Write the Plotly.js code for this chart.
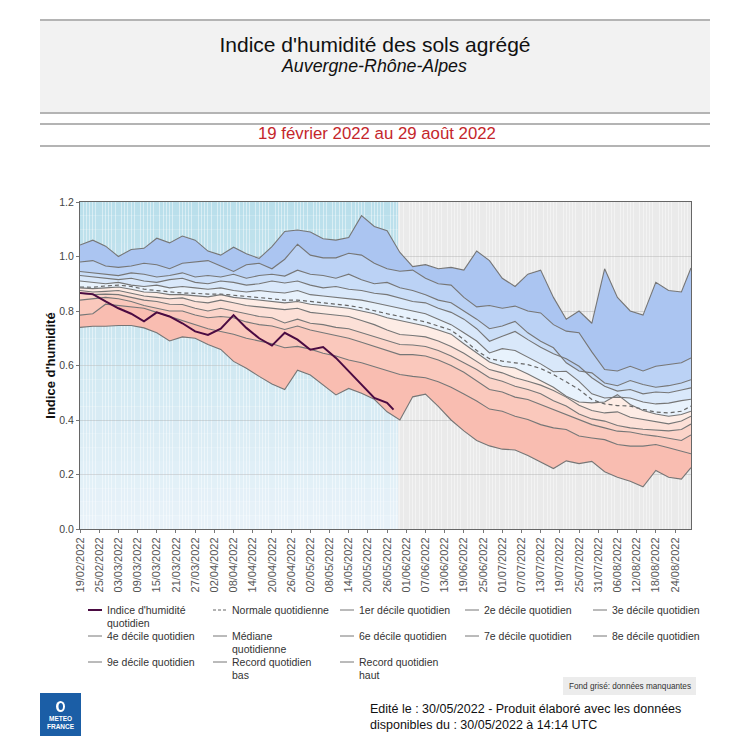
<!DOCTYPE html>
<html><head><meta charset="utf-8">
<script src="https://cdn.plot.ly/plotly-3.0.1.min.js"></script>
<style>html,body{margin:0;padding:0;background:#fff;} #chart{width:750px;height:750px;}</style>
</head><body><div id="chart"></div>
<script>
// ---- data ----
const dates = [
'2022-02-19','2022-02-23','2022-02-27','2022-03-03','2022-03-07','2022-03-11','2022-03-15','2022-03-19','2022-03-23','2022-03-27',
'2022-03-31','2022-04-04','2022-04-08','2022-04-12','2022-04-16','2022-04-20','2022-04-24','2022-04-28','2022-05-02','2022-05-06',
'2022-05-10','2022-05-14','2022-05-18','2022-05-22','2022-05-26','2022-05-30','2022-06-03','2022-06-07','2022-06-11','2022-06-15',
'2022-06-19','2022-06-23','2022-06-27','2022-07-01','2022-07-05','2022-07-09','2022-07-13','2022-07-17','2022-07-21','2022-07-25',
'2022-07-29','2022-08-02','2022-08-06','2022-08-10','2022-08-14','2022-08-18','2022-08-22','2022-08-26','2022-08-29'];

const recordHaut = [1.042,1.06,1.038,1.0,1.026,1.03,1.067,1.05,1.075,1.06,
1.02,1.005,1.034,1.01,0.993,1.036,1.092,1.097,1.09,1.065,
1.06,1.07,1.15,1.11,1.095,1.015,0.963,0.97,0.955,0.96,
0.95,1.02,0.985,0.92,0.89,0.935,0.95,0.85,0.77,0.80,
0.755,0.955,0.85,0.80,0.785,0.905,0.875,0.87,0.958];

const decile9 = [0.98,0.985,0.965,0.96,0.965,0.975,0.97,0.955,0.975,0.98,
0.985,0.965,0.945,0.97,0.975,0.955,0.99,1.045,1.005,0.995,
0.995,1.012,1.005,0.975,0.955,0.946,0.95,0.92,0.90,0.895,
0.85,0.815,0.82,0.81,0.818,0.80,0.793,0.75,0.726,0.72,
0.65,0.585,0.58,0.597,0.58,0.597,0.603,0.61,0.628];

const decile8 = [0.945,0.94,0.935,0.93,0.94,0.935,0.925,0.93,0.94,0.925,
0.93,0.925,0.935,0.92,0.93,0.935,0.928,0.95,0.935,0.93,
0.92,0.935,0.915,0.90,0.905,0.885,0.875,0.86,0.84,0.83,
0.80,0.77,0.735,0.745,0.762,0.72,0.689,0.665,0.61,0.58,
0.573,0.536,0.526,0.545,0.53,0.52,0.526,0.536,0.548];

const decile7 = [0.93,0.925,0.92,0.915,0.92,0.91,0.905,0.915,0.92,0.905,
0.90,0.91,0.905,0.895,0.90,0.91,0.903,0.91,0.895,0.885,
0.89,0.88,0.875,0.865,0.86,0.848,0.835,0.83,0.81,0.795,
0.77,0.735,0.689,0.707,0.725,0.695,0.667,0.643,0.625,0.597,
0.555,0.524,0.506,0.512,0.496,0.503,0.50,0.51,0.518];

const decile6 = [0.91,0.905,0.90,0.905,0.895,0.89,0.895,0.885,0.89,0.885,
0.88,0.885,0.875,0.87,0.875,0.87,0.866,0.875,0.86,0.855,
0.85,0.845,0.84,0.83,0.82,0.811,0.80,0.79,0.77,0.75,
0.72,0.69,0.646,0.662,0.655,0.63,0.606,0.577,0.579,0.542,
0.496,0.481,0.484,0.481,0.466,0.459,0.462,0.471,0.476];

const normale = [0.888,0.887,0.892,0.895,0.89,0.88,0.875,0.871,0.866,0.865,
0.862,0.862,0.858,0.855,0.85,0.845,0.84,0.84,0.835,0.83,
0.825,0.82,0.812,0.80,0.79,0.78,0.77,0.76,0.745,0.73,
0.695,0.655,0.625,0.616,0.61,0.603,0.589,0.567,0.54,0.512,
0.475,0.459,0.453,0.451,0.439,0.429,0.426,0.432,0.451];

const mediane = [0.885,0.882,0.885,0.888,0.88,0.87,0.868,0.86,0.86,0.855,
0.852,0.86,0.85,0.845,0.84,0.835,0.83,0.835,0.825,0.82,
0.815,0.81,0.80,0.79,0.775,0.765,0.755,0.745,0.73,0.715,
0.68,0.645,0.613,0.597,0.591,0.569,0.545,0.52,0.487,0.466,
0.463,0.466,0.493,0.457,0.435,0.422,0.414,0.42,0.432];

const decile4 = [0.875,0.87,0.872,0.875,0.865,0.855,0.85,0.845,0.848,0.835,
0.83,0.84,0.83,0.82,0.815,0.81,0.805,0.81,0.795,0.79,
0.785,0.78,0.765,0.75,0.73,0.714,0.71,0.705,0.69,0.67,
0.645,0.615,0.585,0.573,0.555,0.542,0.528,0.508,0.484,0.454,
0.435,0.426,0.43,0.41,0.402,0.396,0.386,0.396,0.414];

const decile3 = [0.865,0.86,0.862,0.86,0.85,0.84,0.835,0.825,0.824,0.81,
0.80,0.81,0.80,0.79,0.78,0.775,0.756,0.77,0.755,0.75,
0.74,0.735,0.72,0.705,0.69,0.677,0.675,0.67,0.655,0.635,
0.61,0.585,0.555,0.542,0.524,0.512,0.496,0.471,0.451,0.422,
0.404,0.396,0.38,0.371,0.366,0.362,0.36,0.365,0.385];

const decile2 = [0.84,0.845,0.85,0.845,0.835,0.82,0.81,0.80,0.80,0.785,
0.775,0.78,0.775,0.76,0.75,0.745,0.732,0.745,0.73,0.72,
0.71,0.70,0.685,0.67,0.655,0.64,0.64,0.635,0.62,0.60,
0.575,0.545,0.512,0.503,0.484,0.475,0.457,0.439,0.42,0.402,
0.383,0.371,0.359,0.356,0.347,0.341,0.334,0.325,0.345];

const decile1 = [0.785,0.79,0.825,0.82,0.815,0.81,0.795,0.78,0.765,0.75,
0.735,0.725,0.715,0.70,0.69,0.68,0.665,0.67,0.66,0.645,
0.635,0.62,0.61,0.595,0.58,0.567,0.56,0.555,0.54,0.52,
0.495,0.47,0.44,0.432,0.414,0.402,0.383,0.371,0.365,0.341,
0.334,0.328,0.31,0.304,0.304,0.31,0.298,0.286,0.276];

const recordBas = [0.74,0.744,0.744,0.747,0.747,0.738,0.72,0.69,0.705,0.70,
0.677,0.659,0.615,0.59,0.56,0.532,0.512,0.583,0.565,0.528,
0.492,0.516,0.498,0.476,0.43,0.40,0.485,0.495,0.45,0.40,
0.36,0.325,0.305,0.293,0.29,0.27,0.245,0.222,0.25,0.24,
0.248,0.21,0.19,0.175,0.155,0.215,0.19,0.183,0.225];

const indiceDates = [
'2022-02-19','2022-02-23','2022-02-27','2022-03-03','2022-03-07','2022-03-11','2022-03-15','2022-03-19','2022-03-23','2022-03-27',
'2022-03-31','2022-04-04','2022-04-08','2022-04-12','2022-04-16','2022-04-20','2022-04-24','2022-04-28','2022-05-02','2022-05-06',
'2022-05-10','2022-05-14','2022-05-18','2022-05-22','2022-05-26','2022-05-28'];
const indice = [0.866,0.862,0.835,0.81,0.79,0.762,0.795,0.78,0.755,0.725,
0.712,0.735,0.785,0.738,0.70,0.673,0.72,0.695,0.658,0.668,
0.628,0.579,0.53,0.481,0.463,0.438];

const tickStart = '2022-02-19';
const xRange = ['2022-02-19','2022-08-29'];
const missingStart = '2022-05-29 12:00';

// ---- layout helpers ----
const W = 750, H = 750;
const px = x => x / W, py = y => 1 - y / H;
const FONT = 'Liberation Sans, Arial, sans-serif';
const lineGray = '#767676';
const grayLine = {color: lineGray, width: 1.1};
const dashLine = {color: '#666', width: 1.2, dash: '4px,3px'};
const indiceLine = {color: '#4b0b42', width: 2};

const traces = [];
const bands = [recordBas, decile1, decile2, decile3, decile4, mediane, decile6, decile7, decile8, decile9, recordHaut];
const bandColors = [null, '#f9bdb1', '#fac8bc', '#fbd4c9', '#fce0d7', '#fdece5', '#e8f2fc', '#d9e8fa', '#cadef8', '#bbd2f5', '#abc5f1'];
bands.forEach((s, i) => traces.push({
  x: dates, y: s, type: 'scatter', mode: 'lines', line: {width: 0},
  fill: i ? 'tonexty' : 'none', fillcolor: bandColors[i] || undefined,
  showlegend: false, hoverinfo: 'skip'
}));

// legend order (row by row, 5 per row) with line styles
const legendEntries = [
  ["Indice d'humidité|quotidien", indiceDates, indice, indiceLine],
  ['Normale quotidienne', dates, normale, dashLine],
  ['1er décile quotidien', dates, decile1, grayLine],
  ['2e décile quotidien', dates, decile2, grayLine],
  ['3e décile quotidien', dates, decile3, grayLine],
  ['4e décile quotidien', dates, decile4, grayLine],
  ['Médiane|quotidienne', dates, mediane, grayLine],
  ['6e décile quotidien', dates, decile6, grayLine],
  ['7e décile quotidien', dates, decile7, grayLine],
  ['8e décile quotidien', dates, decile8, grayLine],
  ['9e décile quotidien', dates, decile9, grayLine],
  ['Record quotidien|bas', dates, recordBas, grayLine],
  ['Record quotidien|haut', dates, recordHaut, grayLine]
];
// draw the indice last so it sits on top
legendEntries.slice(1).concat([legendEntries[0]]).forEach(([name, x, y, line]) => traces.push({
  x: x, y: y, type: 'scatter', mode: 'lines', name: name.replace('|', ' '), line: line,
  showlegend: false, hoverinfo: 'skip'
}));

const shapes = [];
const annotations = [];

// background (blue gradient where data exist, grey where missing)
const nStrips = 24;
const bgTop = [186, 223, 235], bgBot = [232, 242, 249];
for (let k = 0; k < nStrips; k++) {
  const t = k / (nStrips - 1);
  const c = bgTop.map((v, j) => Math.round(bgBot[j] + (v - bgBot[j]) * t));
  shapes.push({type: 'rect', xref: 'x', yref: 'y', layer: 'below',
    x0: xRange[0], x1: missingStart, y0: 1.2 * k / nStrips, y1: 1.2 * (k + 1) / nStrips,
    fillcolor: `rgb(${c[0]},${c[1]},${c[2]})`, line: {width: 0}});
}
shapes.push({type: 'rect', xref: 'x', yref: 'y', layer: 'below',
  x0: missingStart, x1: xRange[1], y0: 0, y1: 1.2, fillcolor: '#eaeaea', line: {width: 0}});

// header box and rules
shapes.push({type: 'rect', xref: 'paper', yref: 'paper', layer: 'below', x0: px(40), x1: px(710), y0: py(113), y1: py(20), fillcolor: '#f2f2f2', line: {width: 0}});
[20, 113, 124, 146].forEach(y => shapes.push({type: 'line', xref: 'paper', yref: 'paper', x0: px(40), x1: px(710), y0: py(y), y1: py(y), line: {color: '#b4b4b4', width: 2}}));

// manual legend (5 columns)
const colLine = [88, 213, 340, 465, 593], rowY = [610, 636, 662];
legendEntries.forEach(([name, , , line], i) => {
  const cx = colLine[i % 5], ry = rowY[Math.floor(i / 5)];
  shapes.push({type: 'line', xref: 'paper', yref: 'paper', x0: px(cx), x1: px(cx + 14), y0: py(ry), y1: py(ry),
    line: {color: line.color, width: line.width === 2 ? 2 : 1, dash: line.dash ? '3px,2px' : 'solid'}});
  name.split('|').forEach((txt, k) => annotations.push({
    text: txt, x: px(cx + 17), y: py(ry + 12.5 * k), xref: 'paper', yref: 'paper', xanchor: 'left', yanchor: 'middle',
    showarrow: false, font: {family: FONT, size: 10.5, color: '#333'}
  }));
});

// "fond grisé" box
shapes.push({type: 'rect', xref: 'paper', yref: 'paper', layer: 'below', x0: px(563), x1: px(696), y0: py(695), y1: py(677), fillcolor: '#ececec', line: {width: 0}});
// logo
shapes.push({type: 'rect', xref: 'paper', yref: 'paper', x0: px(40), x1: px(81), y0: py(736), y1: py(693), fillcolor: '#1b5ea6', line: {width: 0}});
shapes.push({type: 'circle', xref: 'paper', yref: 'paper', x0: px(56), x1: px(65), y0: py(712), y1: py(701), fillcolor: '#ffffff', line: {width: 0}});
shapes.push({type: 'circle', xref: 'paper', yref: 'paper', x0: px(58.5), x1: px(63), y0: py(710), y1: py(703), fillcolor: '#1b5ea6', line: {width: 0}});

annotations.push(
  {text: '<i>Auvergne-Rhône-Alpes</i>', x: px(374), y: py(66), xref: 'paper', yref: 'paper', xanchor: 'center', yanchor: 'middle', showarrow: false, font: {family: FONT, size: 17.8, color: '#111'}},
  {text: '19 février 2022 au 29 août 2022', x: px(377), y: py(134), xref: 'paper', yref: 'paper', xanchor: 'center', yanchor: 'middle', showarrow: false, font: {family: FONT, size: 16.8, color: '#c4262b'}},
  {text: 'Fond grisé: données manquantes', x: px(629.5), y: py(686), xref: 'paper', yref: 'paper', xanchor: 'center', yanchor: 'middle', showarrow: false, font: {family: FONT, size: 8.2, color: '#333'}},
  {text: 'Edité le : 30/05/2022 - Produit élaboré avec les données<br>disponibles du : 30/05/2022 à 14:14 UTC', x: px(368), y: py(717), xref: 'paper', yref: 'paper', xanchor: 'left', yanchor: 'middle', align: 'left', showarrow: false, font: {family: FONT, size: 12.5, color: '#111'}},
  {text: '<b>METEO<br>FRANCE</b>', x: px(60.5), y: py(722), xref: 'paper', yref: 'paper', xanchor: 'center', yanchor: 'middle', showarrow: false, font: {family: FONT, size: 6.5, color: '#ffffff'}}
);

const layout = {
  width: W, height: H, margin: {l: 0, r: 0, t: 0, b: 0},
  paper_bgcolor: '#ffffff', plot_bgcolor: 'rgba(0,0,0,0)',
  font: {family: FONT, color: '#333'}, showlegend: false,
  title: {text: "Indice d'humidité des sols agrégé", x: 0.5, xref: 'container', xanchor: 'center', y: py(45), yref: 'container', yanchor: 'middle', font: {family: FONT, size: 21, color: '#111'}},
  xaxis: {type: 'date', range: xRange, domain: [px(80), px(691)], tick0: tickStart, dtick: 6 * 86400000,
    tickformat: '%d/%m/%Y', tickangle: -90, tickfont: {family: FONT, size: 11, color: '#555'},
    ticks: 'outside', ticklen: 3, tickcolor: '#777', showline: true, linecolor: '#666', linewidth: 1, mirror: true,
    showgrid: false, zeroline: false,
    minor: {dtick: 86400000, showgrid: true, gridcolor: 'rgba(255,255,255,0.45)', gridwidth: 1}},
  yaxis: {range: [0, 1.2], domain: [py(529), py(202)], dtick: 0.2, tickformat: '.1f',
    tickfont: {family: FONT, size: 10.5, color: '#444'}, ticks: 'outside', ticklen: 3, tickcolor: '#777',
    showline: true, linecolor: '#666', linewidth: 1, mirror: true, showgrid: true, gridcolor: 'rgba(150,150,150,0.3)', zeroline: false,
    title: {text: "<b>Indice d'humidité</b>", standoff: 0, font: {family: FONT, size: 13, color: '#111'}}},
  shapes: shapes, annotations: annotations
};

Plotly.newPlot('chart', traces, layout, {staticPlot: true, displayModeBar: false});
</script></body></html>
